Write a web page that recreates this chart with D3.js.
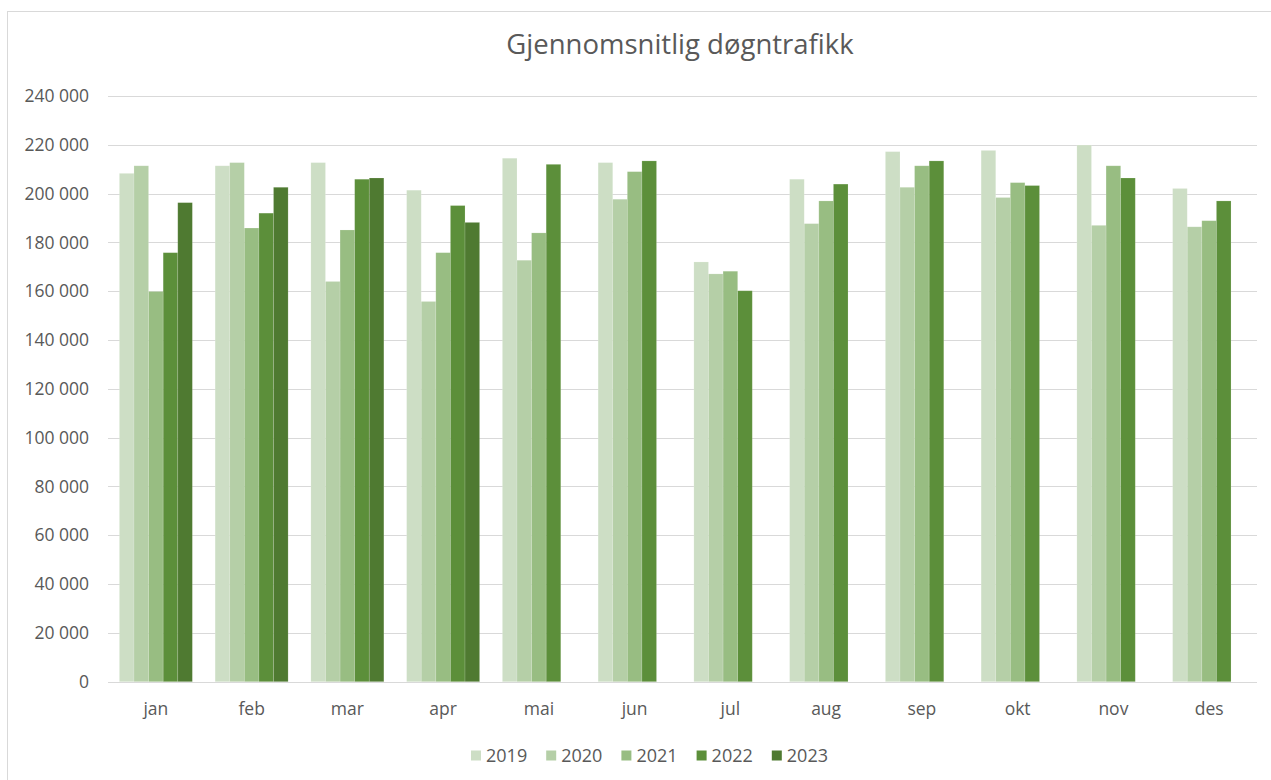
<!DOCTYPE html>
<html>
<head>
<meta charset="utf-8">
<script src="https://cdn.jsdelivr.net/npm/d3@7"></script>
<style>
    html, body { margin: 0; padding: 0; background: #fff; }
    svg { display: block; font-family: "Open Sans", "Noto Sans", sans-serif; }
</style>
</head>
<body>
<svg id="chart" width="1271" height="780"></svg>
<script>
// Chart data
const months = ['jan', 'feb', 'mar', 'apr', 'mai', 'jun', 'jul', 'aug', 'sep', 'okt', 'nov', 'des'];
const years = ['2019', '2020', '2021', '2022', '2023'];

const values2019 = [208300, 211400, 212700, 201400, 214500, 212700, 172000, 205900, 217200, 217700, 219900, 202100];
const values2020 = [211400, 212700, 164000, 155800, 172700, 197700, 167100, 187700, 202600, 198400, 187000, 186400];
const values2021 = [159900, 185900, 185100, 175800, 183900, 209000, 168200, 197000, 211400, 204500, 211400, 188900];
const values2022 = [175800, 192000, 205900, 195100, 212000, 213400, 160200, 203900, 213400, 203300, 206400, 197000];
const values2023 = [196300, 202600, 206400, 188200, null, null, null, null, null, null, null, null];

const yTicks = [0, 20000, 40000, 60000, 80000, 100000, 120000, 140000, 160000, 180000, 200000, 220000, 240000];

const seriesColors = ['#cddec5', '#b5cfa7', '#98bd82', '#5c8f3a', '#4f7a31'];

const series = [values2019, values2020, values2021, values2022, values2023];

const svg = d3.select('#chart');
const textColor = '#595959';
const gridColor = '#d9d9d9';

// Chart frame
svg.append('rect')
    .attr('x', 7.5)
    .attr('y', 11.5)
    .attr('width', 1280)
    .attr('height', 800)
    .attr('fill', '#fff')
    .attr('stroke', '#d9d9d9')
    .attr('stroke-width', 1);

// Title
svg.append('text')
    .attr('x', 680)
    .attr('y', 54)
    .attr('text-anchor', 'middle')
    .attr('fill', textColor)
    .attr('font-size', 27.5)
    .text('Gjennomsnitlig døgntrafikk');

// Scales
const plot = { left: 108, right: 1257, top: 96, bottom: 681.7 };

const x0 = d3.scaleBand()
    .domain(months)
    .range([plot.left, plot.right])
    .padding(0);

const x1 = d3.scaleBand()
    .domain(years)
    .range([0, x0.bandwidth()])
    .paddingInner(0)
    .paddingOuter(0.78);

const y = d3.scaleLinear()
    .domain([0, 240000])
    .range([plot.bottom, plot.top]);

const nb = d3.formatLocale({ decimal: ',', thousands: ' ', grouping: [3], currency: ['', ' kr'] });
const fmt = nb.format(',d');

// Gridlines
svg.append('g')
    .selectAll('line')
    .data(yTicks)
    .join('line')
    .attr('x1', plot.left)
    .attr('x2', plot.right)
    .attr('y1', d => Math.round(y(d)) + 0.5)
    .attr('y2', d => Math.round(y(d)) + 0.5)
    .attr('stroke', gridColor)
    .attr('stroke-width', 1);

// Y axis labels
const yAxis = svg.append('g')
    .attr('transform', `translate(${plot.left - 19},0)`)
    .call(d3.axisLeft(y).tickValues(yTicks).tickFormat(fmt).tickSize(0).tickPadding(0));
yAxis.select('.domain').remove();
yAxis.selectAll('text')
    .attr('fill', textColor)
    .attr('font-size', 17.5)
    .attr('font-family', '"Open Sans", "Noto Sans", sans-serif');

// Bars
const groups = svg.append('g')
    .selectAll('g')
    .data(months)
    .join('g')
    .attr('transform', d => `translate(${x0(d)},0)`);

groups.selectAll('rect')
    .data((m, i) => years.map((yr, k) => ({ year: yr, value: series[k][i], color: seriesColors[k] })))
    .join('rect')
    .filter(d => d.value != null)
    .attr('x', d => x1(d.year))
    .attr('y', d => y(d.value))
    .attr('width', x1.bandwidth())
    .attr('height', d => y(0) - y(d.value))
    .attr('fill', d => d.color)
    .attr('stroke', '#ffffff')
    .attr('stroke-opacity', 0.2)
    .attr('stroke-width', 0.75);

// X axis labels
const xAxis = svg.append('g')
    .attr('transform', `translate(0,${plot.bottom + 21})`)
    .call(d3.axisBottom(x0).tickSize(0).tickPadding(0));
xAxis.select('.domain').remove();
xAxis.selectAll('text')
    .attr('fill', textColor)
    .attr('font-size', 17.5)
    .attr('font-family', '"Open Sans", "Noto Sans", sans-serif');

// Legend
const legend = svg.append('g')
    .attr('transform', 'translate(471,750.5)');

const items = legend.selectAll('g')
    .data(years)
    .join('g')
    .attr('transform', (d, i) => `translate(${i * 75.2},0)`);

items.append('rect')
    .attr('width', 10)
    .attr('height', 10)
    .attr('fill', (d, i) => seriesColors[i]);

items.append('text')
    .attr('x', 15)
    .attr('y', 5)
    .attr('dy', '0.35em')
    .attr('fill', textColor)
    .attr('font-size', 18)
    .text(d => d);
</script>
</body>
</html>
